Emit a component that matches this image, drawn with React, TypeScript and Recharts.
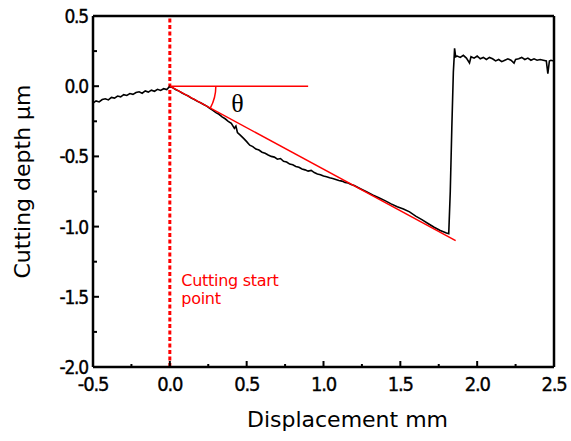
import { LineChart, Line, XAxis, YAxis, ReferenceLine, ReferenceDot } from 'recharts';

// surface profile before the cut starts
const approachX = [-0.5, -0.48, -0.46, -0.44, -0.42, -0.4, -0.38, -0.36, -0.34, -0.32, -0.3, -0.28, -0.26, -0.24, -0.22, -0.2, -0.18, -0.16, -0.14, -0.12, -0.1, -0.08, -0.06, -0.04, -0.02, 0];
const approachDepth = [-0.12, -0.105, -0.112, -0.095, -0.09, -0.098, -0.08, -0.085, -0.07, -0.076, -0.06, -0.066, -0.052, -0.058, -0.045, -0.04, -0.05, -0.034, -0.042, -0.028, -0.036, -0.022, -0.03, -0.018, -0.024, 0];

// inclined cut
const cutX = [0.02, 0.04, 0.06, 0.08, 0.1, 0.12, 0.14, 0.16, 0.18, 0.2, 0.22, 0.24, 0.26, 0.28, 0.3, 0.32, 0.34, 0.36, 0.38, 0.4, 0.42, 0.43, 0.44, 0.46, 0.48, 0.5, 0.52, 0.54, 0.56, 0.58, 0.6, 0.62, 0.64, 0.66, 0.68, 0.7, 0.72, 0.74, 0.76, 0.78, 0.8, 0.82, 0.84, 0.86, 0.88, 0.9, 0.92, 0.94, 0.96, 0.98, 1.0, 1.02, 1.04, 1.06, 1.08, 1.1, 1.12, 1.14, 1.16, 1.18, 1.2, 1.24, 1.28, 1.32, 1.36, 1.4, 1.44, 1.48, 1.52, 1.56, 1.6, 1.64, 1.68, 1.72, 1.76, 1.8, 1.815];
const cutDepth = [-0.012, -0.025, -0.035, -0.048, -0.06, -0.07, -0.085, -0.095, -0.108, -0.118, -0.13, -0.142, -0.158, -0.172, -0.188, -0.2, -0.218, -0.232, -0.25, -0.265, -0.3, -0.285, -0.33, -0.35, -0.372, -0.395, -0.42, -0.43, -0.448, -0.455, -0.47, -0.478, -0.49, -0.5, -0.505, -0.52, -0.515, -0.535, -0.54, -0.555, -0.56, -0.572, -0.578, -0.59, -0.596, -0.605, -0.6, -0.615, -0.625, -0.63, -0.64, -0.645, -0.652, -0.658, -0.665, -0.672, -0.676, -0.685, -0.69, -0.7, -0.708, -0.73, -0.752, -0.775, -0.795, -0.815, -0.838, -0.858, -0.875, -0.895, -0.925, -0.95, -0.978, -1.005, -1.028, -1.045, -1.05];

// tool exit and uncut surface
const exitX = [1.825, 1.835, 1.845, 1.85, 1.853, 1.86];
const exitDepth = [-0.75, -0.3, 0.1, 0.2, 0.27, 0.21];
const plateauX = [1.87, 1.89, 1.91, 1.93, 1.95, 1.96, 1.98, 2.0, 2.02, 2.04, 2.06, 2.08, 2.1, 2.12, 2.14, 2.16, 2.18, 2.2, 2.22, 2.24, 2.25, 2.27, 2.29, 2.31, 2.33, 2.35, 2.37, 2.39, 2.41, 2.43, 2.45, 2.46, 2.47, 2.48, 2.5];
const plateauDepth = [0.215, 0.205, 0.22, 0.2, 0.165, 0.21, 0.2, 0.215, 0.195, 0.205, 0.19, 0.205, 0.195, 0.18, 0.19, 0.175, 0.185, 0.195, 0.185, 0.165, 0.19, 0.195, 0.205, 0.19, 0.2, 0.185, 0.195, 0.185, 0.19, 0.185, 0.18, 0.09, 0.18, 0.185, 0.18];

const xTicks = [-0.5, -0.25, 0, 0.25, 0.5, 0.75, 1, 1.25, 1.5, 1.75, 2, 2.25, 2.5];
const yTicks = [-2, -1.75, -1.5, -1.25, -1, -0.75, -0.5, -0.25, 0, 0.25, 0.5];

const fitStart = { x: 0, y: 0 };
const fitEnd = { x: 1.86, y: -1.1 };
const horizEnd = { x: 0.9, y: 0 };

const data = [
  ...approachX.map((x, i) => ({ x, y: approachDepth[i] })),
  ...cutX.map((x, i) => ({ x, y: cutDepth[i] })),
  ...exitX.map((x, i) => ({ x, y: exitDepth[i] })),
  ...plateauX.map((x, i) => ({ x, y: plateauDepth[i] })),
];

const RED = '#ff0000';
const FONT = '"DejaVu Sans", Verdana, sans-serif';
const NARROW = '"DejaVu Sans Condensed", "DejaVu Sans", sans-serif';

const isMajor = (v: number) => Math.abs(v * 2 - Math.round(v * 2)) < 1e-6;

const XTick = (props: any) => {
  const { x, y, payload } = props;
  const v = payload.value;
  const major = isMajor(v);
  return (
    <g>
      <line x1={x} x2={x} y1={y} y2={y - (major ? 6 : 3)} stroke="#000" strokeWidth={2} />
      {major && (
        <text x={x} y={y + 17} textAnchor="middle" dominantBaseline="central"
          fontFamily={NARROW} fontSize={20} letterSpacing={-1.2} fill="#000" stroke="#000" strokeWidth={0.35}>
          {v.toFixed(1)}
        </text>
      )}
    </g>
  );
};

const YTick = (props: any) => {
  const { x, y, payload } = props;
  const v = payload.value;
  const major = isMajor(v);
  return (
    <g>
      <line x1={x} x2={x + (major ? 6 : 4)} y1={y} y2={y} stroke="#000" strokeWidth={2} />
      {major && (
        <text x={x - 5} y={y} textAnchor="end" dominantBaseline="central"
          fontFamily={NARROW} fontSize={19} letterSpacing={-1.2} fill="#000" stroke="#000" strokeWidth={0.35}>
          {v.toFixed(1)}
        </text>
      )}
    </g>
  );
};

const AngleArc = (props: any) => {
  const { cx, cy } = props;
  const r = 46;
  const a = (28.5 * Math.PI) / 180;
  return (
    <path d={`M ${cx + r} ${cy} A ${r} ${r} 0 0 1 ${cx + r * Math.cos(a)} ${cy + r * Math.sin(a)}`}
      fill="none" stroke={RED} strokeWidth={1.5} />
  );
};

const Theta = (props: any) => (
  <text x={props.cx} y={props.cy} textAnchor="middle" dominantBaseline="central"
    fontFamily='"Liberation Serif", serif' fontSize={26} fill="#000">θ</text>
);

const StartNote = (props: any) => (
  <text x={props.cx} y={props.cy} fontFamily={FONT} fontSize={16} letterSpacing={-0.3} fill={RED}>
    <tspan x={props.cx} dy="0">Cutting start</tspan>
    <tspan x={props.cx} dy="18">point</tspan>
  </text>
);

export default function App() {
  return (
    <div style={{ position: 'absolute', left: 0, top: 0, background: '#fff' }}>
      <LineChart width={571} height={441} data={data} margin={{ top: 16, right: 17, left: 0, bottom: 0 }}>
        <XAxis
          dataKey="x"
          type="number"
          domain={[-0.5, 2.5]}
          ticks={xTicks}
          interval={0}
          tickSize={0}
          tickMargin={0}
          tick={<XTick />}
          axisLine={{ stroke: '#000', strokeWidth: 2.5 }}
          height={74}
          label={{ value: 'Displacement mm', position: 'insideBottom', offset: 14, dx: 24,
            style: { fontFamily: FONT, fontSize: 22, fill: '#000' } }}
        />
        <YAxis
          type="number"
          domain={[-2, 0.5]}
          ticks={yTicks}
          interval={0}
          tickSize={0}
          tickMargin={0}
          tick={<YTick />}
          axisLine={{ stroke: '#000', strokeWidth: 2.5 }}
          width={93}
          label={{ value: 'Cutting depth μm', angle: -90, position: 'insideLeft', offset: 22, dy: -10,
            style: { fontFamily: FONT, fontSize: 22, fill: '#000', textAnchor: 'middle' } }}
        />
        <ReferenceLine y={0.5} stroke="#000" strokeWidth={2.5} />
        <ReferenceLine x={2.5} stroke="#000" strokeWidth={2.5} />
        <ReferenceLine x={0} stroke={RED} strokeWidth={3} strokeDasharray="4 2.5" />
        <Line type="linear" dataKey="y" stroke="#000" strokeWidth={1.6} dot={false} isAnimationActive={false} />
        <ReferenceLine segment={[fitStart, fitEnd]} stroke={RED} strokeWidth={1.5} />
        <ReferenceLine segment={[fitStart, horizEnd]} stroke={RED} strokeWidth={1.5} />
        <ReferenceDot x={0} y={0} r={1} shape={<AngleArc />} />
        <ReferenceDot x={0.44} y={-0.12} r={1} shape={<Theta />} />
        <ReferenceDot x={0.075} y={-1.42} r={1} shape={<StartNote />} />
      </LineChart>
    </div>
  );
}
